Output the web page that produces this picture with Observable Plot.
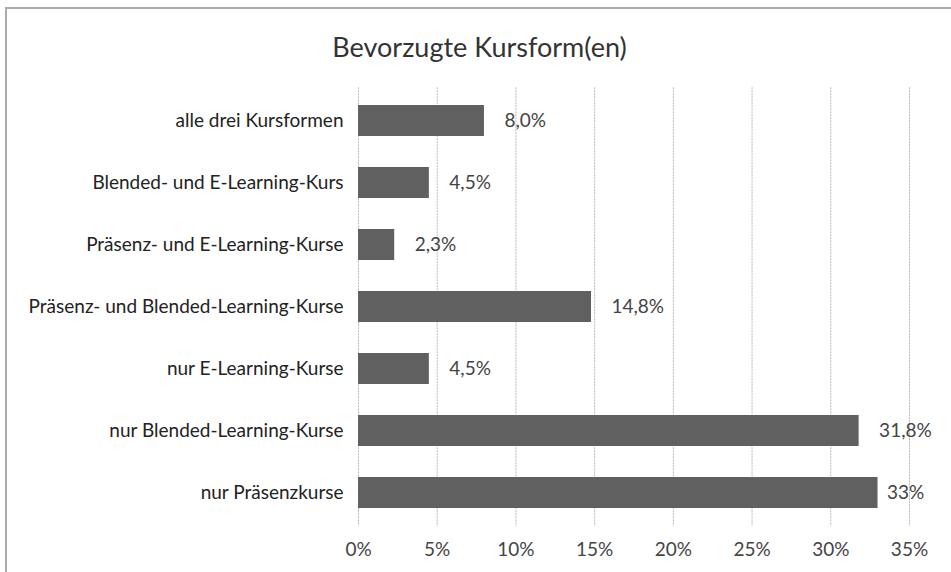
<!DOCTYPE html>
<html><head><meta charset="utf-8">
<script src="https://cdn.jsdelivr.net/npm/d3@7"></script>
<script src="https://cdn.jsdelivr.net/npm/@observablehq/plot@0.6"></script>
<style>
  html, body { margin:0; padding:0; background:#fff; overflow:hidden; }
  #frame { position:absolute; left:5px; top:7px; width:980px; height:620px; border:2px solid #ababab; box-sizing:border-box; }
  #title { position:absolute; left:0; top:0; width:951px; height:80px; text-align:center; font-family:Lato, sans-serif; font-size:27px; color:#333; line-height:94px; padding-left:8px; box-sizing:border-box; }
  #chart { position:absolute; left:0; top:80px; }
</style>
</head><body>
<div id="frame"></div>
<div id="title">Bevorzugte Kursform(en)</div>
<div id="chart"></div>
<script>
const categories = [
  "alle drei Kursformen",
  "Blended- und E-Learning-Kurs",
  "Präsenz- und E-Learning-Kurse",
  "Präsenz- und Blended-Learning-Kurse",
  "nur E-Learning-Kurse",
  "nur Blended-Learning-Kurse",
  "nur Präsenzkurse"
];
const values = [8.0, 4.5, 2.3, 14.8, 4.5, 31.8, 33];
const valueLabels = ["8,0%", "4,5%", "2,3%", "14,8%", "4,5%", "31,8%", "33%"];
const xTicks = [0, 5, 10, 15, 20, 25, 30, 35];

const data = categories.map((c, i) => ({category: c, value: values[i], label: valueLabels[i]}));

const chart = Plot.plot({
  width: 951,
  height: 492,
  marginLeft: 358,
  marginRight: 42,
  marginTop: 7.3,
  marginBottom: 46,
  style: {fontFamily: "Lato, sans-serif", fontSize: "19px", background: "transparent", overflow: "visible"},
  x: {domain: [0, 35], ticks: xTicks, tickFormat: d => d + "%", label: null},
  y: {domain: categories, padding: 0.5, paddingOuter: 0.25, label: null},
  marks: [
    Plot.gridX(xTicks, {stroke: "#b8b8b8", strokeOpacity: 1, strokeDasharray: "2,1", strokeWidth: 1}),
    Plot.barX(data, {x: "value", y: "category", fill: "#606060"}),
    Plot.text(data.filter(d => d.value < 32.5), {x: "value", y: "category", text: "label", textAnchor: "start", dx: 20, fill: "#444", fontSize: 19}),
    Plot.text(data.filter(d => d.value >= 32.5), {x: "value", y: "category", text: "label", textAnchor: "start", dx: 9, fill: "#444", fontSize: 19}),
    Plot.axisX({ticks: xTicks, tickFormat: d => d + "%", tickSize: 0, tickPadding: 16, fill: "#444", fontSize: 19, label: null}),
    Plot.axisY({tickSize: 0, tickPadding: 15, fill: "#222", fontSize: 19, label: null})
  ]
});
document.getElementById("chart").appendChild(chart);
</script></body></html>
